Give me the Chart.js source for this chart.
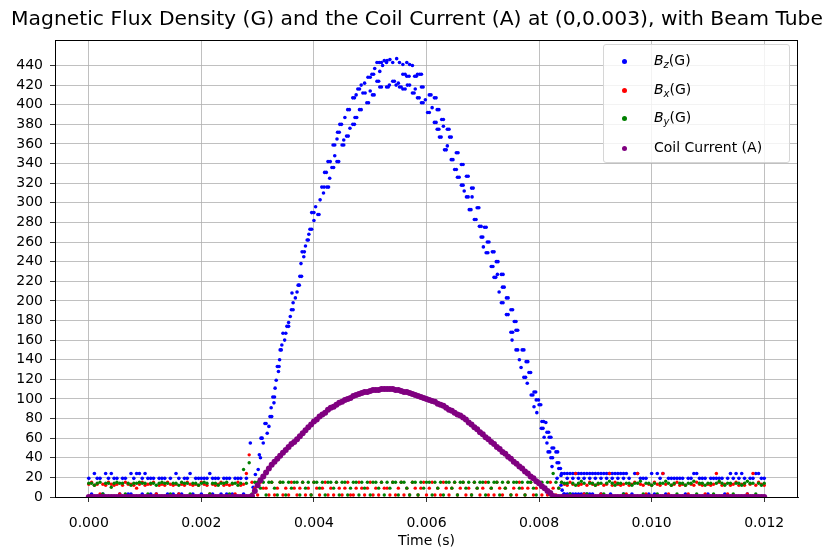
<!DOCTYPE html>
<html>
<head>
    <title>Magnetic Flux Density and Coil Current</title>
    <script src="https://cdn.jsdelivr.net/npm/chart.js"></script>
    <style>
        body { margin: 0; background: #fff; font-family: "DejaVu Sans", sans-serif; }
        #wrap { position: relative; width: 827px; height: 552px; }
        #titulo { position: absolute; left: 0; top: 6px; width: 827px; padding-left: 7px; box-sizing: border-box;
                  text-align: center; font-size: 20.3px; line-height: 24px; color: #000; white-space: nowrap; }
        #legend { position: absolute; left: 603px; top: 44px; width: 185px; height: 117px;
                  border: 1px solid #d6d6d6; border-radius: 3px; background: rgba(255,255,255,0.8);
                  font-size: 14px; color: #000; }
        .row { position: absolute; left: 0; width: 185px; height: 20px; line-height: 20px; }
        .dot { position: absolute; left: 18px; top: 8px; width: 5px; height: 5px; border-radius: 50%; }
        .lbl { position: absolute; left: 50px; top: -1px; white-space: nowrap; }
        .lbl sub { font-size: 10px; line-height: 0; vertical-align: -3px; }
    </style>
</head>
<body>
<div id="wrap">
    <canvas id="grafico" width="827" height="552"></canvas>
    <div id="titulo">Magnetic Flux Density (G) and the Coil Current (A) at (0,0.003), with Beam Tube</div>
    <div id="legend">
        <div class="row" style="top:6px"><span class="dot" style="background:#0000ff"></span><span class="lbl"><i>B</i><sub><i>z</i></sub>(G)</span></div>
        <div class="row" style="top:35px"><span class="dot" style="background:#ff0000"></span><span class="lbl"><i>B</i><sub><i>x</i></sub>(G)</span></div>
        <div class="row" style="top:63px"><span class="dot" style="background:#008000"></span><span class="lbl"><i>B</i><sub><i>y</i></sub>(G)</span></div>
        <div class="row" style="top:93px"><span class="dot" style="background:#800080"></span><span class="lbl">Coil Current (A)</span></div>
    </div>
</div>

<script>
    // sample times in ms (shared by Bx, By, coil and the flat parts of Bz)
    const gridMs = [
        0,0.05,0.1,0.15,0.2,0.25,0.3,0.35,0.4,0.45,0.5,0.55,0.6,0.65,0.7,0.75,0.8,0.85,0.9,0.95,
        1,1.05,1.1,1.15,1.2,1.25,1.3,1.35,1.4,1.45,1.5,1.55,1.6,1.65,1.7,1.75,1.8,1.85,1.9,1.95,
        2,2.05,2.1,2.15,2.2,2.25,2.3,2.35,2.4,2.45,2.5,2.55,2.6,2.65,2.7,2.75,2.8,2.85,2.9,2.95,
        3,3.05,3.1,3.15,3.2,3.25,3.3,3.35,3.4,3.45,3.5,3.55,3.6,3.65,3.7,3.75,3.8,3.85,3.9,3.95,
        4,4.05,4.1,4.15,4.2,4.25,4.3,4.35,4.4,4.45,4.5,4.55,4.6,4.65,4.7,4.75,4.8,4.85,4.9,4.95,
        5,5.05,5.1,5.15,5.2,5.25,5.3,5.35,5.4,5.45,5.5,5.55,5.6,5.65,5.7,5.75,5.8,5.85,5.9,5.95,
        6,6.05,6.1,6.15,6.2,6.25,6.3,6.35,6.4,6.45,6.5,6.55,6.6,6.65,6.7,6.75,6.8,6.85,6.9,6.95,
        7,7.05,7.1,7.15,7.2,7.25,7.3,7.35,7.4,7.45,7.5,7.55,7.6,7.65,7.7,7.75,7.8,7.85,7.9,7.95,
        8,8.05,8.1,8.15,8.2,8.25,8.3,8.35,8.4,8.45,8.5,8.55,8.6,8.65,8.7,8.75,8.8,8.85,8.9,8.95,
        9,9.05,9.1,9.15,9.2,9.25,9.3,9.35,9.4,9.45,9.5,9.55,9.6,9.65,9.7,9.75,9.8,9.85,9.9,9.95,
        10,10.05,10.1,10.15,10.2,10.25,10.3,10.35,10.4,10.45,10.5,10.55,10.6,10.65,10.7,10.75,10.8,10.85,10.9,10.95,
        11,11.05,11.1,11.15,11.2,11.25,11.3,11.35,11.4,11.45,11.5,11.55,11.6,11.65,11.7,11.75,11.8,11.85,11.9,11.95,
        12
    ];

    // Bz (G) on the grid, null where the pulse is (see bzPulse)
    const bzGrid = [
        19,3,24,19,19,3,24,19,24,19,19,3,19,19,3,24,19,24,24,19,
        24,19,19,19,3,19,19,19,3,19,3,24,19,3,19,19,24,3,19,19,
        19,19,19,24,19,19,19,3,19,19,19,3,19,19,19,3,19,null,null,null,
        null,null,null,null,null,null,null,null,null,null,null,null,null,null,null,null,null,null,null,null,
        null,null,null,null,null,null,null,null,null,null,null,null,null,null,null,null,null,null,null,null,
        null,null,null,null,null,null,null,null,null,null,null,null,null,null,null,null,null,null,null,null,
        null,null,null,null,null,null,null,null,null,null,null,null,null,null,null,null,null,null,null,null,
        null,null,null,null,null,null,null,null,null,null,null,null,null,null,null,null,null,null,null,null,
        null,null,null,null,null,null,null,null,null,24,24,24,24,24,24,24,24,24,24,24,
        24,24,24,24,24,24,24,24,24,24,24,24,19,3,24,24,19,19,19,3,
        24,3,24,19,24,3,19,19,19,19,19,19,3,19,19,24,24,19,19,19,
        3,19,19,19,19,19,3,19,24,19,24,19,24,19,3,19,19,24,24,19,
        19
    ];

    // Bz pulse and extra readings: [time ms, G]
    const bzPulse = [
        [2.87,55],[2.92,10],[2.96,23],[3.01,28],[3.03,43],[3.05,40],[3.08,60],[3.10,55],[3.13,75],[3.17,65],
        [3.20,72],[3.22,82],[3.24,91],[3.27,102],[3.29,96],[3.31,111],[3.33,119],[3.35,133],[3.37,128],[3.39,140],
        [3.40,150],[3.43,155],[3.45,167],[3.48,160],[3.52,174],[3.55,178],[3.58,184],[3.60,191],[3.61,208],[3.63,198],
        [3.67,203],[3.70,209],[3.72,216],[3.75,225],[3.77,238],[3.79,250],[3.82,245],[3.85,256],[3.88,262],[3.91,268],
        [3.93,273],[3.96,290],[4.00,282],[4.03,296],[4.07,288],[4.11,303],[4.14,316],[4.17,310],[4.19,331],[4.23,316],
        [4.25,342],[4.28,325],[4.32,336],[4.34,359],[4.37,348],[4.41,342],[4.41,365],[4.42,372],[4.46,380],[4.50,359],
        [4.53,364],[4.55,387],[4.58,368],[4.60,395],[4.64,376],[4.69,380],[4.69,407],[4.73,387],[4.75,410],[4.78,416],
        [4.81,395],[4.84,420],[4.87,412],[4.90,422],[4.94,402],[4.96,428],[5.00,414],[5.03,431],[5.04,410],[5.08,437],
        [5.12,424],[5.12,443],[5.17,434],[5.17,418],[5.22,440],[5.25,445],[5.29,418],[5.29,443],[5.34,420],[5.35,446],
        [5.40,443],[5.40,424],[5.46,420],[5.47,447],[5.50,422],
        [3.06,60],[3.15,75],[3.25,82],[3.30,102],[3.38,133],[3.42,150],[3.50,167],[3.55,174],[3.63,191],[3.74,216],
        [3.78,225],[3.83,250],[3.90,262],[3.96,273],[4.00,290],[4.09,288],[4.18,316],[4.26,316],[4.22,331],[4.35,336],
        [4.29,342],[4.44,342],[4.37,359],[4.53,359],[4.45,372],[4.61,368],[4.49,380],[4.72,380],[4.63,395],[4.76,387],
        [4.72,407],[4.84,395],[4.81,416],[4.97,402],[4.91,412],[5.00,428],[5.07,410],[5.06,431],[5.15,424],[5.20,418],
        [5.32,418],[5.16,443],[5.20,443],[5.43,424],[5.30,445],
        [5.52,443],[5.58,441],[5.65,443],[5.70,441],[5.75,440],[5.58,431],[5.65,429],[5.79,429],[5.84,431],[5.88,431],
        [5.52,418],[5.58,416],[5.66,420],[5.75,412],[5.80,416],[5.91,418],[5.84,407],[5.91,402],[5.98,405],[6.05,410],
        [6.14,407],[6.02,392],[6.10,397],[6.19,395],[6.14,382],[6.27,385],[6.19,375],[6.30,378],[6.37,375],[6.23,367],
        [6.41,367],[6.32,354],[6.37,358],[6.53,351],[6.44,344],[6.62,339],[6.50,334],[6.55,326],[6.71,327],[6.62,318],
        [6.80,315],[6.67,312],[6.71,306],[6.81,306],[6.76,293],[6.90,295],[6.85,283],[6.94,276],[7.03,275],[6.97,265],
        [7.08,260],[7.01,255],[7.06,249],[7.17,250],[7.15,235],[7.24,240],[7.20,224],[7.33,227],[7.26,227],[7.35,214],
        [7.29,209],[7.42,203],[7.33,198],[7.50,191],[7.42,186],[7.56,179],[7.50,168],[7.59,170],[7.52,160],[7.59,150],
        [7.70,150],[7.65,140],[7.77,138],[7.68,132],[7.82,127],[7.73,122],[7.79,116],[7.86,104],[7.91,107],[7.95,99],
        [7.91,92],[8.00,94],[7.96,86],[8.05,77],[8.12,76],[8.04,70],[8.14,66],[8.09,61],[8.18,61],[8.14,55],
        [8.23,50],[8.16,46],[8.30,46],[8.21,40],[8.32,35],[8.23,31],[8.35,29],[8.39,22],[8.40,24],[8.32,19],
        [8.39,12],[8.41,7],[8.44,3],
        [5.62,431],[5.69,429],[5.82,429],[5.91,431],[5.55,418],[5.62,416],[5.70,420],[5.78,412],[5.94,418],[5.87,407],
        [5.94,402],[6.08,410],[6.17,407],[6.05,392],[6.22,395],[6.17,382],[6.30,385],[6.22,375],[6.40,375],[6.26,367],
        [6.44,367],[6.35,354],[6.56,351],[6.47,344],[6.65,339],[6.53,334],[6.58,326],[6.74,327],[6.65,318],[6.83,315],
        [6.74,306],[6.79,293],[6.93,295],[6.88,283],[6.97,276],[7.06,275],[7.00,265],[7.11,260],[7.09,249],[7.20,250],
        [7.18,235],[7.27,240],[7.23,224],[7.36,227],[7.38,214],[7.45,203],[7.36,198],[7.53,191],[7.45,186],[7.59,179],
        [7.53,168],[7.62,170],[7.62,150],[7.73,150],[7.80,138],[7.85,127],[7.76,122],[7.89,104],[7.94,107],[7.99,99],
        [8.03,94],[8.08,77],[8.07,70],[8.17,66],[8.21,61],[8.26,50],[8.19,46],[8.33,46],[8.24,40],[8.35,35],
        [8.38,29],
        [0.75,3],[0.95,3],[1.10,3],[1.60,3],[2.00,3],[2.20,3],[2.45,3],
        [8.45,3],[8.50,3],[8.55,3],[8.60,3],[8.65,3],[8.70,3],[8.75,3],[8.80,3],[8.85,3],[8.90,3],[8.95,3],
        [8.50,19],[8.60,19],[8.70,19],[8.80,19],[8.90,19],[9.00,19],[9.10,19],[9.20,19],[9.30,19],[9.40,19],[9.50,19],
        [9.10,3],[9.27,3],[9.50,3]
    ];

    // Bx (G)
    const bx = [
        13,15,12,13,3,13,12,15,13,12,13,3,12,15,13,13,12,9,13,15,
        12,13,13,15,3,12,13,12,15,13,12,13,3,13,12,15,13,12,13,12,
        15,13,12,3,13,12,13,15,12,13,12,13,3,15,12,13,24,43,15,9,
        2,15,9,9,2,15,2,9,15,2,9,2,15,9,2,9,15,2,9,2,
        15,9,2,9,15,2,9,2,15,9,2,9,15,2,2,9,15,9,2,9,
        15,2,9,2,15,9,9,2,15,2,9,15,2,9,2,15,9,2,9,15,
        2,9,15,2,9,2,15,9,2,9,15,2,9,15,2,9,2,15,9,2,
        9,15,2,9,2,15,9,2,9,15,2,9,2,15,9,2,9,15,2,9,
        15,2,9,2,15,9,2,9,15,13,12,15,13,24,12,13,3,12,15,13,
        12,13,3,12,13,24,12,15,13,12,13,3,12,13,15,24,13,12,3,13,
        12,15,13,12,24,13,3,12,13,15,12,13,12,3,13,12,15,13,12,3,
        13,12,13,24,15,12,13,3,12,13,15,12,13,12,3,13,24,12,15,13,
        12
    ];

    // By (G)
    const by = [
        14,14,12,14,15,3,14,14,10,14,15,14,14,3,14,12,14,14,15,14,
        14,3,14,14,12,14,15,14,14,3,14,14,12,15,14,14,3,14,14,12,
        14,15,14,3,14,14,12,14,14,15,3,14,14,12,14,28,14,35,3,15,
        15,9,15,2,15,15,9,2,15,15,2,15,9,15,15,2,15,9,15,2,
        15,15,9,15,2,15,15,9,15,2,15,15,2,9,15,15,2,15,9,15,
        2,15,15,9,15,2,15,9,15,15,2,15,15,9,2,15,15,2,15,9,
        15,15,2,15,9,15,2,15,15,9,15,2,15,15,9,15,2,15,9,15,
        15,2,15,9,15,15,2,15,9,15,2,15,15,9,15,2,15,15,9,2,
        15,15,9,15,2,24,15,9,15,14,14,3,14,12,14,16,14,3,14,14,
        12,14,14,3,14,16,14,12,14,14,3,14,14,12,14,14,16,3,14,14,
        12,14,3,14,14,16,14,12,14,3,14,14,12,14,14,16,3,14,14,12,
        14,14,3,14,16,14,12,14,14,3,14,14,12,14,16,14,14,3,14,12,
        14
    ];

    // Coil current (A)
    const coil = [
        0,0,0,0,0,0,0,0,0,0,0,0,0,0,0,0,0,0,0,0,
        0,0,0,0,0,0,0,0,0,0,0,0,0,0,0,0,0,0,0,0,
        0,0,0,0,0,0,0,0,0,0,0,0,0,0,0,0,0,0,1,6,
        12,17,21,25,29,33,36,39,42,45,48,51,54,56,59,62,65,68,71,74,
        77,79,82,84,86,89,91,92,94,96,97,99,100,101,103,104,105,106,107,107,
        108,109,109,109,110,110,110,110,110,109,109,108,107,107,106,105,104,103,102,101,
        100,99,98,97,95,94,93,91,89,88,86,84,83,81,79,76,74,71,69,66,
        64,61,59,56,54,51,49,46,44,41,39,36,34,31,29,26,24,21,19,16,
        14,11,9,6,4,1,0,0,0,0,0,0,0,0,0,0,0,0,0,0,
        0,0,0,0,0,0,0,0,0,0,0,0,0,0,0,0,0,0,0,0,
        0,0,0,0,0,0,0,0,0,0,0,0,0,0,0,0,0,0,0,0,
        0,0,0,0,0,0,0,0,0,0,0,0,0,0,0,0,0,0,0,0,
        0
    ];

    const xTicks = [0, 0.002, 0.004, 0.006, 0.008, 0.010, 0.012];
    const yTicks = [0,20,40,60,80,100,120,140,160,180,200,220,240,260,280,300,320,340,360,380,400,420,440];

    function puntos(tiempos, valores) {
        const pts = [];
        tiempos.forEach((t, i) => {
            if (valores[i] !== null) pts.push({ x: t / 1000, y: valores[i] });
        });
        return pts;
    }

    const bzPuntos = puntos(gridMs, bzGrid).concat(bzPulse.map(p => ({ x: p[0] / 1000, y: p[1] })));

    // matplotlib style box around the plot area
    const marco = {
        id: 'marco',
        afterDraw(chart) {
            const { ctx, chartArea: a } = chart;
            ctx.save();
            ctx.strokeStyle = '#000';
            ctx.lineWidth = 1;
            ctx.strokeRect(Math.round(a.left) + 0.5, Math.round(a.top) + 0.5,
                           Math.round(a.right - a.left) - 1, Math.round(a.bottom - a.top));
            ctx.restore();
        }
    };

    Chart.defaults.font.family = '"DejaVu Sans", sans-serif';
    Chart.defaults.color = '#000';

    const gridOpts = { color: '#b0b0b0', lineWidth: 0.8, tickColor: '#000', tickLength: 5 };

    new Chart(document.getElementById('grafico').getContext('2d'), {
        type: 'scatter',
        data: {
            datasets: [
                { label: 'Coil Current (A)', data: puntos(gridMs, coil), backgroundColor: '#800080', pointRadius: 3, order: 0 },
                { label: 'By(G)', data: puntos(gridMs, by), backgroundColor: '#008000', pointRadius: 1.7, order: 1 },
                { label: 'Bx(G)', data: puntos(gridMs, bx), backgroundColor: '#ff0000', pointRadius: 1.7, order: 2 },
                { label: 'Bz(G)', data: bzPuntos, backgroundColor: '#0000ff', pointRadius: 1.8, order: 3 }
            ].map(d => Object.assign(d, { borderWidth: 0, pointHoverRadius: 0, clip: 0 }))
        },
        options: {
            responsive: false,
            animation: false,
            events: [],
            layout: { padding: { left: 0, right: 29, top: 40, bottom: 2 } },
            plugins: {
                legend: { display: false },
                tooltip: { enabled: false },
                title: { display: false }
            },
            scales: {
                x: {
                    type: 'linear',
                    min: -0.0006,
                    max: 0.0126,
                    afterBuildTicks: s => { s.ticks = xTicks.map(v => ({ value: v })); },
                    afterFit: s => { s.height = 53; },
                    ticks: { callback: v => v.toFixed(3), font: { size: 14 }, padding: 13, maxRotation: 0, autoSkip: false },
                    grid: gridOpts,
                    border: { color: '#000', width: 1 },
                    title: { display: true, text: 'Time (s)', font: { size: 14 }, padding: { top: 2, bottom: 0 } }
                },
                y: {
                    min: 0,
                    max: 466,
                    afterBuildTicks: s => { s.ticks = yTicks.map(v => ({ value: v })); },
                    afterFit: s => { s.width = 55; },
                    ticks: { font: { size: 14 }, padding: 7, autoSkip: false },
                    grid: gridOpts,
                    border: { color: '#000', width: 1 }
                }
            }
        },
        plugins: [marco]
    });
</script>
</body>
</html>
